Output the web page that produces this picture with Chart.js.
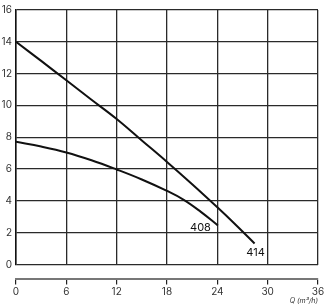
<!DOCTYPE html>
<html>
<head>
<meta charset="utf-8">
<script src="https://cdn.jsdelivr.net/npm/chart.js@4.4.1/dist/chart.umd.min.js"></script>
<style>
  body { margin: 0; background: #fff; }
</style>
</head>
<body>
<canvas id="pumpChart" width="329" height="307"></canvas>
<script>
// Pump curves: flow Q (m3/h) vs head
const curveNames = ["408", "414"];
const q408 = [0, 3, 6, 9, 12, 15, 18, 20, 22, 24.07];
const h408 = [7.72, 7.42, 7.05, 6.56, 5.98, 5.35, 4.63, 4.07, 3.33, 2.46];
const q414 = [0, 3, 6, 9, 12, 15, 18, 21, 24, 26, 28.44];
const h414 = [14, 12.8, 11.58, 10.36, 9.15, 7.8, 6.45, 5.05, 3.6, 2.6, 1.33];
const xTicks = [0, 6, 12, 18, 24, 30, 36];
const yTicks = [0, 2, 4, 6, 8, 10, 12, 14, 16];

const fontFamily = "Inter, 'Noto Sans', sans-serif";
const gridColor = "#2a2a2a";

const toPoints = (xs, ys) => xs.map((x, i) => ({ x, y: ys[i] }));

// Writes the curve name next to the last point of each curve
const curveLabels = {
    id: "curveLabels",
    afterDatasetsDraw(chart) {
        const ctx = chart.ctx;
        ctx.save();
        ctx.font = "11px " + fontFamily;
        ctx.fillStyle = "#111";
        chart.data.datasets.forEach((ds, i) => {
            const pts = chart.getDatasetMeta(i).data;
            const end = pts[pts.length - 1];
            if (i === 0) {
                ctx.textAlign = "right";
                ctx.textBaseline = "middle";
                ctx.fillText(curveNames[i], end.x - 7, end.y + 2);
            } else {
                ctx.textAlign = "center";
                ctx.textBaseline = "top";
                ctx.fillText(curveNames[i], end.x + 1, end.y + 4);
            }
        });
        ctx.restore();
    }
};

new Chart(document.getElementById("pumpChart"), {
    type: "line",
    data: {
        datasets: [
            { label: curveNames[0], data: toPoints(q408, h408) },
            { label: curveNames[1], data: toPoints(q414, h414) }
        ].map(d => Object.assign(d, {
            borderColor: "#111",
            borderWidth: 2,
            pointRadius: 0,
            fill: false,
            tension: 0.4
        }))
    },
    options: {
        responsive: false,
        animation: false,
        layout: { padding: { left: 0, top: 10, right: 11, bottom: 2 } },
        plugins: { legend: { display: false }, tooltip: { enabled: false } },
        scales: {
            // grid only, sits right under the plot
            x: {
                type: "linear",
                min: 0, max: 36,
                afterBuildTicks: s => { s.ticks = xTicks.map(v => ({ value: v })); },
                ticks: { display: false },
                grid: { color: gridColor, lineWidth: 1.3, drawTicks: false },
                border: { display: false },
                afterFit: s => { s.height = 14; }
            },
            // detached axis line with ticks and labels
            x2: {
                type: "linear",
                position: "bottom",
                min: 0, max: 36,
                afterBuildTicks: s => { s.ticks = xTicks.map(v => ({ value: v })); },
                ticks: { color: "#333", font: { family: fontFamily, size: 10 }, padding: 1, maxRotation: 0 },
                grid: { display: true, drawOnChartArea: false, drawTicks: true, color: "#222", lineWidth: 1.2, tickLength: 6 },
                border: { display: true, color: "#777", width: 2 },
                title: {
                    display: true, text: "Q (m³/h)", align: "end",
                    color: "#333", font: { family: fontFamily, size: 7, style: "italic" },
                    padding: { top: -2, bottom: 0 }
                }
            },
            y: {
                min: 0, max: 16,
                afterBuildTicks: s => { s.ticks = yTicks.map(v => ({ value: v })); },
                ticks: { color: "#333", font: { family: fontFamily, size: 10 }, padding: 4 },
                grid: { color: gridColor, lineWidth: 1.3, drawTicks: false },
                border: { display: true, color: "#111", width: 1.5 },
                afterFit: s => { s.width = 16; }
            }
        }
    },
    plugins: [curveLabels]
});
</script>
</body>
</html>
